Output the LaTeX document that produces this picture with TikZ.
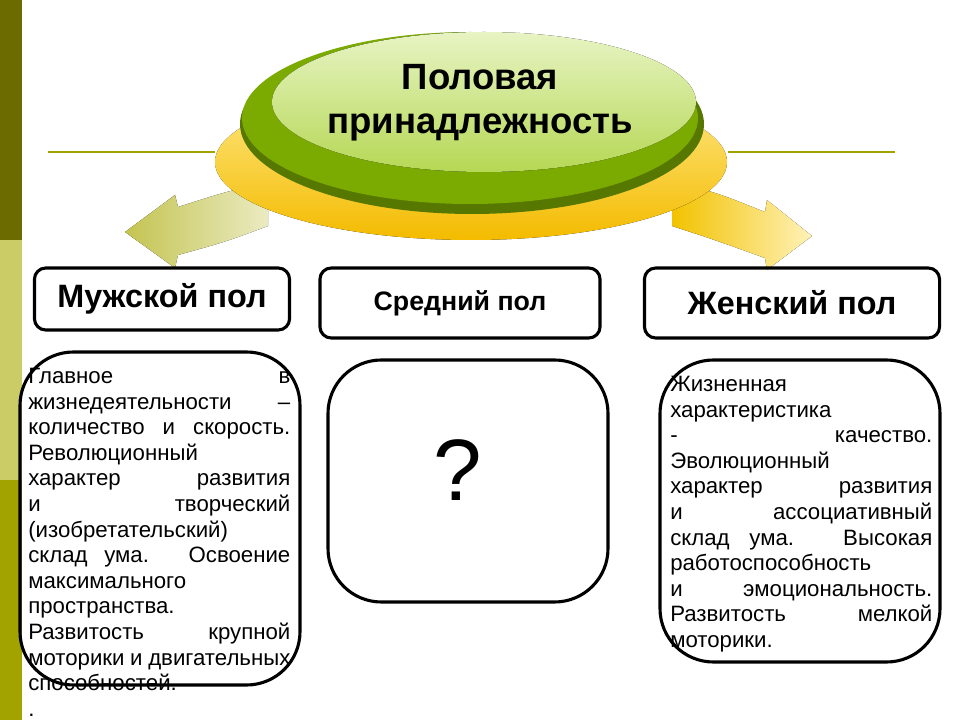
\documentclass[tikz,border=0pt]{standalone}
\usepackage{fontspec}
\setmainfont{Liberation Sans}
\usetikzlibrary{positioning}

\definecolor{olivedark}{HTML}{6B6B00}
\definecolor{olivepale}{HTML}{CCCC66}
\definecolor{olivemid}{HTML}{A3A300}
\definecolor{leafgreen}{HTML}{7BAA00}
\definecolor{leaflight}{HTML}{C4E36A}
\definecolor{gold}{HTML}{F2C200}
\definecolor{goldlight}{HTML}{FFE98A}

\tikzset{
  headbox/.style={draw, line width=2.2pt, rounded corners=8pt},
  textbox/.style={draw, line width=2.2pt, rounded corners=38pt},
  bodytext/.style={text width=6.55cm, align=justify, font=\fontsize{15.8}{18.2}\selectfont, inner sep=0pt}
}

\begin{document}
\begin{tikzpicture}[x=0.025cm,y=-0.025cm]

\useasboundingbox (0,0) rectangle (960,720);

% side bar
\fill[olivedark] (0,0) rectangle (22,240);
\fill[olivepale] (0,240) rectangle (22,480);
\fill[olivemid] (0,480) rectangle (22,720);

% lines
\draw[olivemid, line width=1.2pt] (48,152) -- (215,152);
\draw[olivemid, line width=1.2pt] (728,152) -- (895,152);

% arrows
\fill[left color=olivepale!80!olivemid, right color=olivepale!40] (268,182) .. controls (225,192) .. (178,207) -- (175,195) -- (125,232) -- (175,268) -- (178,255) .. controls (225,242) .. (268,226) -- cycle;
\fill[left color=gold, right color=goldlight!60] (672,182) .. controls (715,192) .. (765,212) -- (767,200) -- (812,236) -- (767,270) -- (765,258) .. controls (715,240) .. (672,226) -- cycle;

% ellipses
\fill[top color=goldlight, bottom color=gold!90!orange] (471,162) ellipse (256 and 78);
\fill[leafgreen!70!black] (472,124) ellipse (232 and 90);
\fill[leafgreen] (470,118) ellipse (228 and 86);
\fill[top color=leaflight!40!white, bottom color=leaflight!80!leafgreen] (484,102) ellipse (212 and 70);
\node[font=\fontsize{26}{31}\selectfont\bfseries, align=center] (title) at (480,103) {Половая\\принадлежность};

% headers
\node[headbox, minimum width=6.375cm, minimum height=1.55cm, font=\fontsize{23}{26}\selectfont\bfseries] (male) at (162,299) {Мужской пол};
\node[headbox, minimum width=7cm, minimum height=1.75cm, font=\fontsize{19}{22}\selectfont\bfseries] (middle) at (460,303) {Средний пол};
\node[headbox, minimum width=7.375cm, minimum height=1.75cm, font=\fontsize{23}{26}\selectfont\bfseries] (female) at (792,303) {Женский пол};

% boxes
\draw[textbox] (20,352) rectangle (300,685);
\draw[textbox] (328,360) rectangle (608,602);
\draw[textbox] (660,360) rectangle (940,662);

\node[bodytext, anchor=north west] (maletext) at (28,368) {Главное в жизнедеятельности – количество и скорость. Революционный характер развития и творческий (изобретательский) склад ума. Освоение максимального пространства. Развитость крупной моторики и двигательных способностей.\par\raggedright .};
\node[font=\fontsize{62}{64}\selectfont] (question) at (458,470) {?};
\node[bodytext, anchor=north west] (femaletext) at (670,376) {Жизненная характеристика - качество. Эволюционный характер развития и ассоциативный склад ума. Высокая работоспособность и эмоциональность. Развитость мелкой моторики.};

\end{tikzpicture}
\end{document}
